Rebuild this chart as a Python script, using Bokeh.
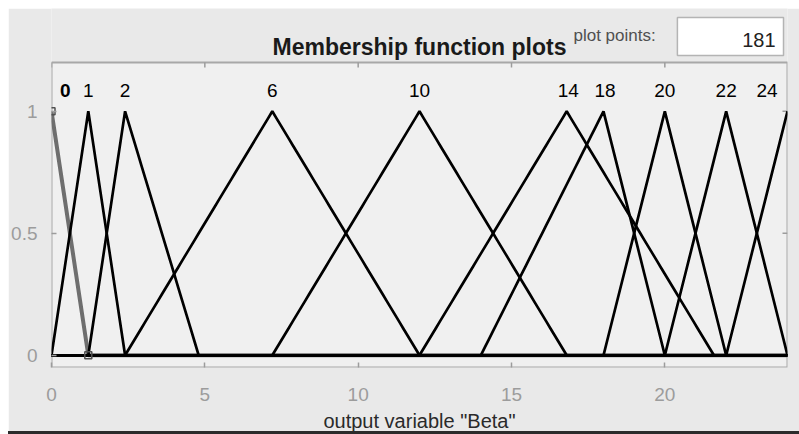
import numpy as np
from bokeh.plotting import figure
from bokeh.layouts import column
from bokeh.models import Label, FixedTicker, Range1d, BoxAnnotation, Div
from bokeh.embed import file_html
from bokeh.resources import INLINE

# ---- data ----
x_min, x_max = 0, 24
y_min, y_max = -0.05, 1.2
plot_points = 181
mf_names = ["0", "1", "2", "6", "10", "14", "18", "20", "22", "24"]
mf_a = [-1.2, 0.0, 1.2, 2.4, 7.2, 12.0, 14.0, 18.0, 20.0, 22.0]
mf_b = [0.0, 1.2, 2.4, 7.2, 12.0, 16.8, 18.0, 20.0, 22.0, 24.0]
mf_c = [1.2, 2.4, 4.8, 12.0, 16.8, 21.6, 20.0, 22.0, 24.0, 26.0]
label_x = [0.45, 1.2, 2.4, 7.2, 12.0, 16.85, 18.05, 20.0, 22.0, 23.33]
selected = "0"
x_ticks = [0, 5, 10, 15, 20]
y_ticks = [0, 0.5, 1]
title_text = "Membership function plots"
xlabel_text = 'output variable "Beta"'
points_label = "plot points:"

FONT = "Liberation Sans"
GREY = "#9c9c9c"
PANEL = "#e9e9e9"
AXES_BG = "#f0f0f0"
BOX_LINE = "#a8a8a8"

PX_X = 736 / (x_max - x_min)      # pixels per x unit
PX_Y = 305 / (y_max - y_min)      # pixels per y unit
top_extra = 54 / PX_Y             # header space above the axes box


def trimf(x, a, b, c):
    left = (x - a) / (b - a) if b > a else np.ones_like(x)
    right = (c - x) / (c - b) if c > b else np.ones_like(x)
    return np.clip(np.minimum(left, right), 0, 1)


xs = np.linspace(x_min, x_max, plot_points)

p = figure(width=791, height=426, margin=(8, 0, 0, 8),
           x_range=Range1d(x_min, x_max),
           y_range=Range1d(y_min, y_max + top_extra),
           output_backend="svg", toolbar_location=None, title=None,
           min_border_left=43, min_border_right=12,
           min_border_top=0, min_border_bottom=67,
           background_fill_color=PANEL, border_fill_color=PANEL,
           outline_line_color=None)
p.grid.visible = False

# MATLAB axes box
p.add_layout(BoxAnnotation(left=x_min, right=x_max, bottom=y_min, top=y_max,
                           fill_color=AXES_BG, fill_alpha=1,
                           line_color=BOX_LINE, line_width=2, line_alpha=1,
                           level="underlay"))

for ax, ticks in ((p.xaxis[0], x_ticks), (p.yaxis[0], y_ticks)):
    ax.ticker = FixedTicker(ticks=ticks)
    ax.axis_line_color = None
    ax.major_tick_in = 5
    ax.major_tick_out = 0
    ax.major_tick_line_color = GREY
    ax.major_tick_line_width = 1.5
    ax.minor_tick_line_color = None
    ax.major_label_text_font = FONT
    ax.major_label_text_font_size = "19px"
    ax.major_label_text_color = GREY
    ax.major_label_standoff = 14

p.xaxis.major_label_standoff = 20
p.xaxis.axis_label = xlabel_text
p.xaxis.axis_label_text_font = FONT
p.xaxis.axis_label_text_font_size = "20px"
p.xaxis.axis_label_text_font_style = "normal"
p.xaxis.axis_label_text_color = "#2a2a2a"
p.xaxis.axis_label_text_line_height = 0.8
p.xaxis.axis_label_standoff = 6

# inward ticks on the top and right edges of the box
tick_len_x = 5 / PX_X
tick_len_y = 5 / PX_Y
p.segment(x0=x_ticks, y0=[y_max] * len(x_ticks), x1=x_ticks,
          y1=[y_max - tick_len_y] * len(x_ticks),
          line_color=GREY, line_width=1.5)
p.segment(x0=[x_max] * len(y_ticks), y0=y_ticks,
          x1=[x_max - tick_len_x] * len(y_ticks), y1=y_ticks,
          line_color=GREY, line_width=1.5)

# selected MF first (grey), then the others in black
sel = mf_names.index(selected)
p.line(xs, trimf(xs, mf_a[sel], mf_b[sel], mf_c[sel]),
       line_color="#6e6e6e", line_width=4)
for i, name in enumerate(mf_names):
    if i == sel:
        continue
    p.line(xs, trimf(xs, mf_a[i], mf_b[i], mf_c[i]),
           line_color="black", line_width=2.7)
p.scatter([mf_b[sel], mf_c[sel]], [1, 0], marker="square", size=7,
          fill_color=None, line_color="#505050", line_width=1.5)

for i, name in enumerate(mf_names):
    p.add_layout(Label(x=label_x[i], y=1.087, text=name,
                       text_align="center", text_baseline="middle",
                       text_font=FONT, text_font_size="19px",
                       text_color="black",
                       text_font_style="bold" if i == sel else "normal"))

# header: title, plot-points field
p.add_layout(Label(x=(x_min + x_max) / 2, y=1.265, text=title_text,
                   text_align="center", text_baseline="alphabetic",
                   text_font=FONT, text_font_size="23px",
                   text_font_style="bold", text_color="#1a1a1a"))
p.add_layout(Label(x=17.02, y=1.311, text=points_label, text_align="left",
                   text_baseline="middle", text_font=FONT,
                   text_font_size="17px", text_color="#505050"))
p.add_layout(BoxAnnotation(left=20.41, right=23.87, bottom=1.229, top=1.384,
                           fill_color="white", fill_alpha=1,
                           line_color="#b4b4b4", line_width=1.5,
                           line_alpha=1, level="underlay"))
p.add_layout(Label(x=23.61, y=1.292, text=str(plot_points), text_align="right",
                   text_baseline="middle", text_font=FONT,
                   text_font_size="20px", text_color="#222222"))

# dark window edge along the bottom of the screenshot (overlaps the canvas)
edge = Div(width=791, height=3, margin=(-3, 0, 0, 8),
           styles={"background-color": "#2b2b2b"})

layout = column(p, edge, spacing=0)
open("out.html", "w").write(file_html(layout, INLINE))
